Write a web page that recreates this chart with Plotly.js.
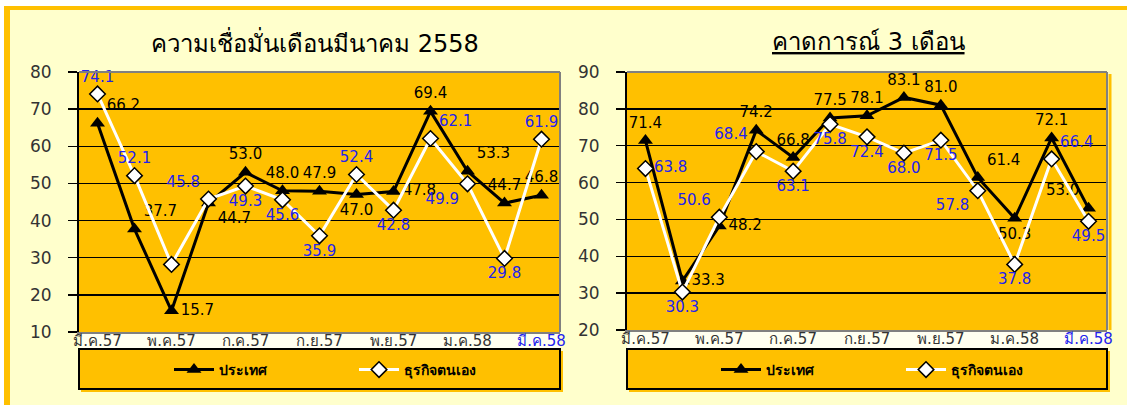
<!DOCTYPE html>
<html>
<head>
<meta charset="utf-8">
<script src="https://cdn.plot.ly/plotly-3.0.1.min.js"></script>
<style>html,body{margin:0;padding:0;background:#fff;}#chart{width:1127px;height:405px;}</style>
</head>
<body>
<div id="chart"></div>
<script>
// ---- data ----
const months = ['มี.ค.57','เม.ย.57','พ.ค.57','มิ.ย.57','ก.ค.57','ส.ค.57','ก.ย.57','ต.ค.57','พ.ย.57','ธ.ค.57','ม.ค.58','ก.พ.58','มี.ค.58'];
const tickLabels = ['มี.ค.57','พ.ค.57','ก.ค.57','ก.ย.57','พ.ย.57','ม.ค.58','มี.ค.58'];
const seriesNames = ['ประเทศ','ธุรกิจตนเอง'];
const titleLeft = 'ความเชื่อมั่นเดือนมีนาคม 2558';
const titleRight = 'คาดการณ์ 3 เดือน';
const leftCountry  = [66.2,37.7,15.7,44.7,53.0,48.0,47.9,47.0,47.8,69.4,53.3,44.7,46.8];
const leftBusiness = [74.1,52.1,28.2,45.8,49.3,45.6,35.9,52.4,42.8,62.1,49.9,29.8,61.9];
const rightCountry  = [71.4,33.3,48.2,74.2,66.8,77.5,78.1,83.1,81.0,61.4,50.3,72.1,53.0];
const rightBusiness = [63.8,30.3,50.6,68.4,63.1,75.8,72.4,68.0,71.5,57.8,37.8,66.4,49.5];
const leftBusinessHiddenLabel = [2];

// ---- label placement (style) ----
const posLC = ['top right','top right','middle right','bottom right','top center','top center','top center','bottom center','middle right','top center','top right','top center','top center'];
const posLB = ['top center','top center','top center','top left','bottom center','bottom center','bottom center','top center','bottom center','top right','bottom left','bottom center','top center'];
const posRC = ['top center','middle right','middle right','top center','top center','top center','top center','top center','top center','top right','bottom center','top center','top left'];
const posRB = ['middle right','bottom center','top left','top left','bottom center','bottom center','bottom center','bottom center','bottom center','bottom left','bottom center','top right','bottom center'];

const W = 1127, H = 405;
const px = v => v / W;
const py = v => 1 - v / H;
const FONT = "Tahoma, 'DejaVu Sans', 'Noto Sans', sans-serif";
const BLUE = '#2222EE';

const fmt = (arr, hidden) => arr.map((v, i) => (hidden && hidden.includes(i)) ? '' : v.toFixed(1));

function countryTrace(vals, pos, xa, ya, leg) {
  return {
    type: 'scatter', mode: 'lines+markers+text', name: seriesNames[0],
    x: months, y: vals, xaxis: xa, yaxis: ya, legend: leg, showlegend: true,
    text: fmt(vals), textposition: pos, cliponaxis: false,
    textfont: {family: FONT, size: 15, color: '#000'},
    line: {color: '#000', width: 3},
    marker: {symbol: 'triangle-up', size: 13, color: '#000'}
  };
}
function businessTrace(vals, pos, xa, ya, leg, hidden) {
  return {
    type: 'scatter', mode: 'lines+markers+text', name: seriesNames[1],
    x: months, y: vals, xaxis: xa, yaxis: ya, legend: leg, showlegend: true,
    text: fmt(vals, hidden), textposition: pos, cliponaxis: false,
    textfont: {family: FONT, size: 15, color: BLUE},
    line: {color: '#fff', width: 3},
    marker: {symbol: 'diamond', size: 12, color: '#fff', line: {color: '#000', width: 1.5}}
  };
}

const data = [
  countryTrace(leftCountry, posLC, 'x', 'y', 'legend'),
  businessTrace(leftBusiness, posLB, 'x', 'y', 'legend', leftBusinessHiddenLabel),
  countryTrace(rightCountry, posRC, 'x2', 'y2', 'legend2'),
  businessTrace(rightBusiness, posRB, 'x2', 'y2', 'legend2')
];

const tickText = tickLabels.map((t, i) => i === tickLabels.length - 1 ? `<span style="color:${BLUE}">${t}</span>` : t);

function xAxis(domain, anchor) {
  return {
    domain: domain, anchor: anchor, type: 'category', range: [-0.5, 12.5], fixedrange: true,
    tickmode: 'array', tickvals: tickLabels, ticktext: tickText,
    showgrid: false, zeroline: false, showline: true, linecolor: '#808080', linewidth: 2,
    ticks: '', ticklabelstandoff: -6, tickfont: {family: FONT, size: 15, color: '#333'}
  };
}
function yAxis(domain, range, anchor) {
  return {
    domain: domain, range: range, dtick: 10, anchor: anchor, fixedrange: true,
    showgrid: true, gridcolor: '#000', gridwidth: 1.5, zeroline: false,
    showline: true, linecolor: '#000', linewidth: 2,
    ticks: 'outside', ticklen: 9, tickwidth: 1.5, tickcolor: '#000', ticklabelstandoff: 13,
    tickfont: {family: FONT, size: 17, color: '#333'}
  };
}

const L = {x0: 79, x1: 560, y0: 72, y1: 332};
const R = {x0: 627, x1: 1107, y0: 72, y1: 330};

function rect(x0, y0, x1, y1, fill, lineColor, lw, layer) {
  return {type: 'rect', xref: 'paper', yref: 'paper', x0: px(x0), x1: px(x1), y0: py(y1), y1: py(y0),
    fillcolor: fill, line: {color: lineColor || 'rgba(0,0,0,0)', width: lw || 0}, layer: layer || 'below'};
}
function hline(x0, x1, y, color, w) {
  return {type: 'line', xref: 'paper', yref: 'paper', x0: px(x0), x1: px(x1), y0: py(y), y1: py(y), line: {color: color, width: w}, layer: 'above'};
}
function vline(x, y0, y1, color, w, layer) {
  return {type: 'line', xref: 'paper', yref: 'paper', x0: px(x), x1: px(x), y0: py(y0), y1: py(y1), line: {color: color, width: w}, layer: layer || 'above'};
}

const shapes = [
  rect(0, 0, W, 6, '#FFFFFF'),
  rect(0, 6, W, 10, '#FFC000'),
  rect(0, 0, 4, H, '#FFFFFF'),
  rect(4, 6, 10, H, '#FFC000'),
  rect(L.x0, L.y1 + 1, L.x1, 348, '#FFFFF0'),
  rect(R.x0, R.y1 + 1, R.x1, 348, '#FFFFF0'),
  rect(L.x0 + 2, 351, L.x1 + 3, 392, '#FFC000'),
  rect(L.x0, 349, L.x1, 389, '#FFC000', '#000', 2),
  rect(R.x0 + 2, 351, R.x1 + 3, 392, '#FFC000'),
  rect(R.x0, 349, R.x1, 389, '#FFC000', '#000', 2),
  hline(L.x0, L.x1, L.y0, '#808080', 2),
  vline(L.x1, L.y0, L.y1, '#808080', 2),
  hline(R.x0, R.x1, R.y0, '#808080', 2),
  vline(R.x1, R.y0, R.y1, '#808080', 2),
  vline(R.x1 + 3, R.y0 + 2, R.y1, '#FFC000', 3, 'below')
];

const legendCommon = {
  orientation: 'h', xanchor: 'left', yanchor: 'middle', y: py(370),
  bgcolor: 'rgba(0,0,0,0)', borderwidth: 0, entrywidth: 130, entrywidthmode: 'pixels',
  itemwidth: 40, font: {family: FONT, size: 14, color: '#000', weight: 'bold'}, itemclick: false, itemdoubleclick: false
};

const layout = {
  width: W, height: H,
  margin: {l: 0, r: 0, t: 0, b: 0, autoexpand: false},
  paper_bgcolor: '#FFFFCC', plot_bgcolor: '#FFC000',
  showlegend: true,
  xaxis: xAxis([px(L.x0), px(L.x1)], 'y'),
  yaxis: yAxis([py(L.y1), py(L.y0)], [10, 80], 'x'),
  xaxis2: xAxis([px(R.x0), px(R.x1)], 'y2'),
  yaxis2: yAxis([py(R.y1), py(R.y0)], [20, 90], 'x2'),
  legend: Object.assign({}, legendCommon, {x: px(169)}),
  legend2: Object.assign({}, legendCommon, {x: px(716)}),
  shapes: shapes,
  annotations: [
    {xref: 'paper', yref: 'paper', x: px(315), y: py(42), text: titleLeft, showarrow: false,
     xanchor: 'center', yanchor: 'middle', font: {family: FONT, size: 24, color: '#000'}},
    {xref: 'paper', yref: 'paper', x: px(869), y: py(42), text: '<u>' + titleRight + '</u>', showarrow: false,
     xanchor: 'center', yanchor: 'middle', font: {family: FONT, size: 24, color: '#000'}}
  ]
};

Plotly.newPlot('chart', data, layout, {displayModeBar: false, staticPlot: true});
</script>
</body>
</html>
